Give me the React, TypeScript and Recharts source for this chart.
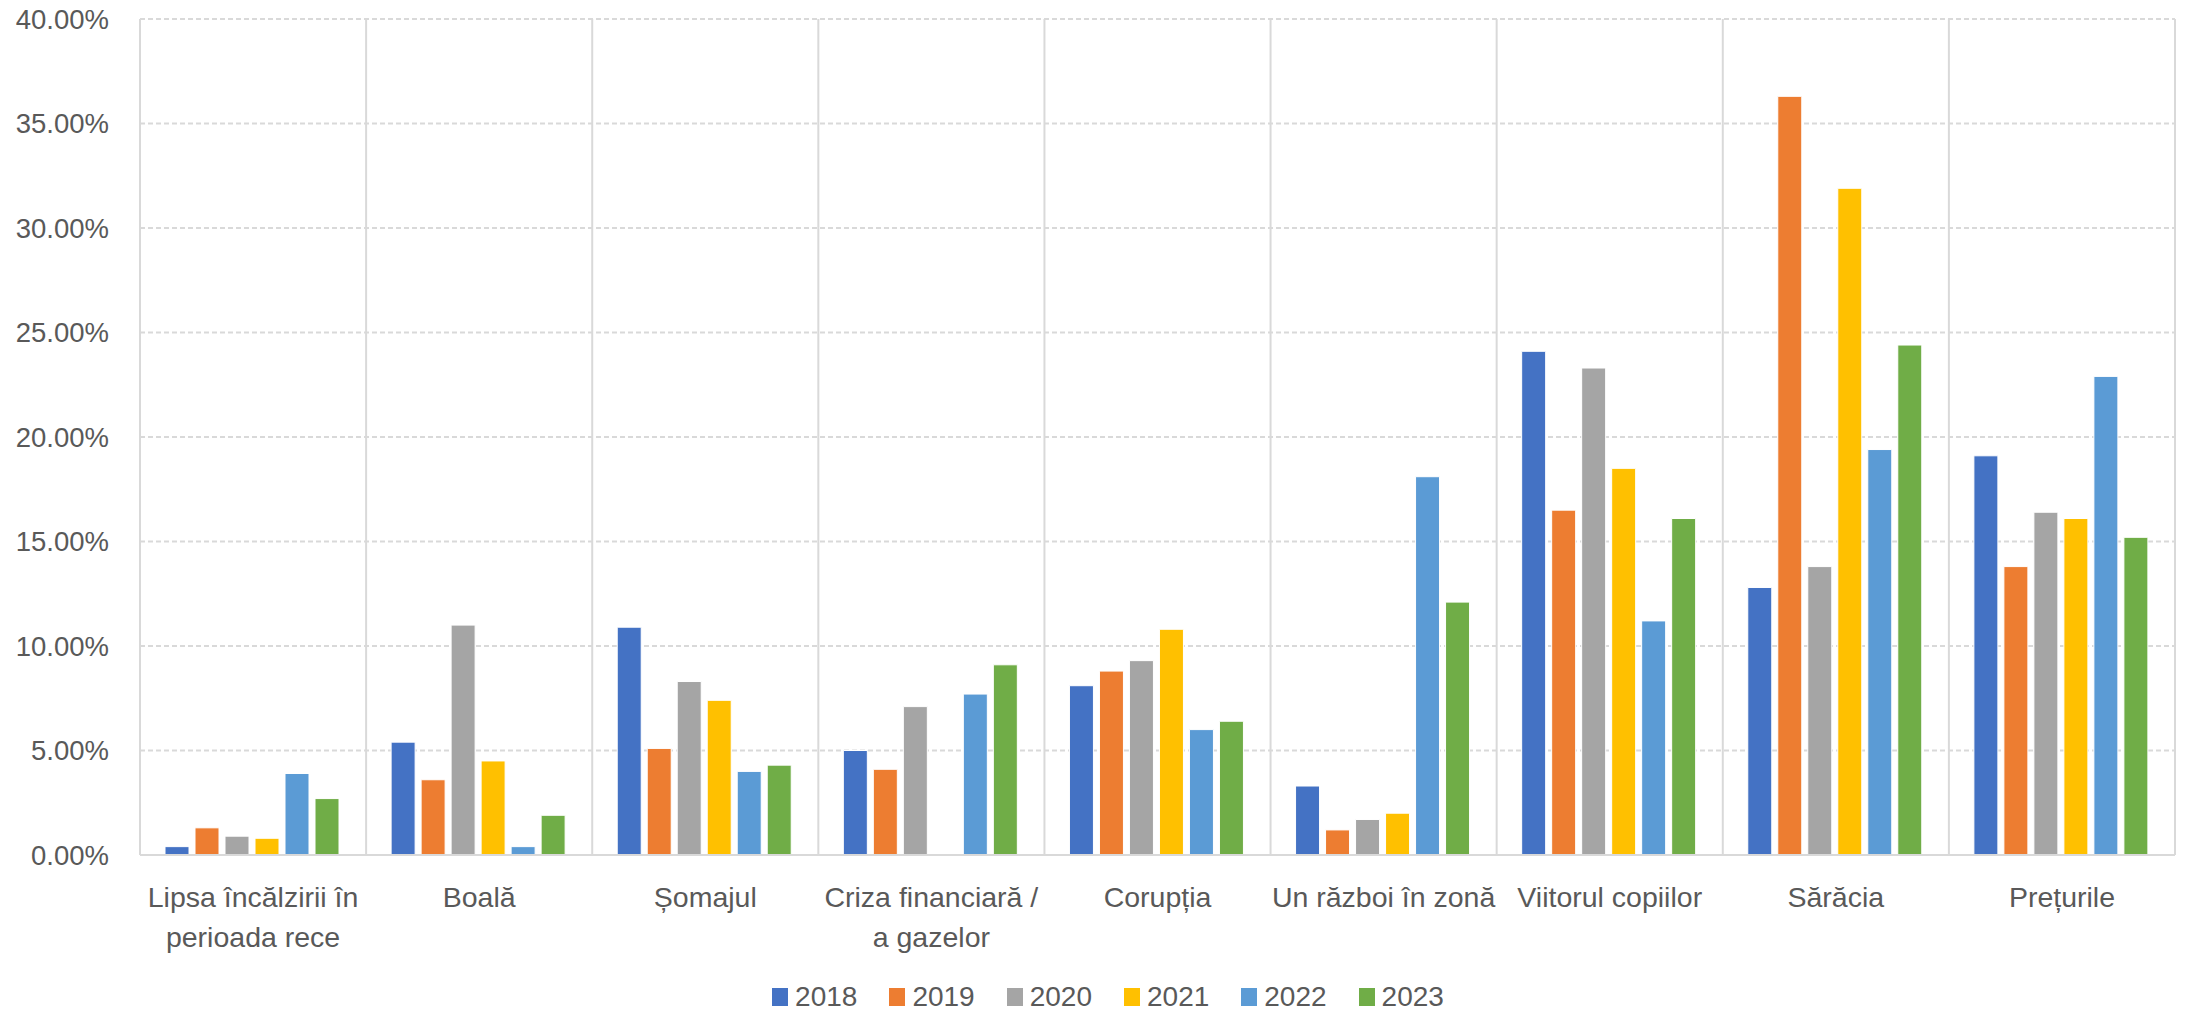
import { BarChart, Bar, XAxis, YAxis, CartesianGrid, Legend } from 'recharts'

const categories = [
    'Lipsa încălzirii în\nperioada rece',
    'Boală',
    'Șomajul',
    'Criza financiară /\na gazelor',
    'Corupția',
    'Un război în zonă',
    'Viitorul copiilor',
    'Sărăcia',
    'Prețurile'
]

const years = ['2018', '2019', '2020', '2021', '2022', '2023']
const colors = ['#4472C4', '#ED7D31', '#A5A5A5', '#FFC000', '#5B9BD5', '#70AD47']

// values in percent, one list per year, ordered like categories
const v2018 = [0.4, 5.4, 10.9, 5.0, 8.1, 3.3, 24.1, 12.8, 19.1]
const v2019 = [1.3, 3.6, 5.1, 4.1, 8.8, 1.2, 16.5, 36.3, 13.8]
const v2020 = [0.9, 11.0, 8.3, 7.1, 9.3, 1.7, 23.3, 13.8, 16.4]
const v2021 = [0.8, 4.5, 7.4, null, 10.8, 2.0, 18.5, 31.9, 16.1]
const v2022 = [3.9, 0.4, 4.0, 7.7, 6.0, 18.1, 11.2, 19.4, 22.9]
const v2023 = [2.7, 1.9, 4.3, 9.1, 6.4, 12.1, 16.1, 24.4, 15.2]

const yTicks = [0, 5, 10, 15, 20, 25, 30, 35, 40]

const series = [v2018, v2019, v2020, v2021, v2022, v2023]

const data = categories.map((name, i) => {
    const row: Record<string, string | number | null> = { name }
    years.forEach((y, k) => { row[y] = series[k][i] })
    return row
})

const FONT = '"Liberation Sans", Arial, sans-serif'
const TEXT = '#595959'

function CategoryTick(props: any) {
    const { x, y, payload } = props
    const lines = String(payload.value).split('\n')
    return (
        <text x={x} y={y + 52} textAnchor="middle" fill={TEXT} fontSize={28.5} fontFamily={FONT}>
            {lines.map((l, i) => (
                <tspan key={i} x={x} dy={i === 0 ? 0 : 40}>{l}</tspan>
            ))}
        </text>
    )
}

function LegendContent() {
    return (
        <div style={{ width: 2190, height: 28, display: 'flex', justifyContent: 'center', alignItems: 'center', paddingLeft: 6, boxSizing: 'border-box' }}>
            {years.map((y, k) => (
                <div key={y} style={{ display: 'flex', alignItems: 'center', marginRight: k < years.length - 1 ? 32 : 0 }}>
                    <span style={{ width: 16, height: 18, background: colors[k], display: 'inline-block', marginRight: 7 }} />
                    <span style={{ fontFamily: FONT, fontSize: 28, color: TEXT, lineHeight: '28px' }}>{y}</span>
                </div>
            ))}
        </div>
    )
}

export default function App() {
    return (
        <div style={{ position: 'absolute', left: 0, top: 0, width: 2190, height: 1011, background: '#fff' }}>
            <BarChart
                width={2190}
                height={1011}
                data={data}
                margin={{ top: 19, right: 15, left: 10, bottom: 0 }}
                barCategoryGap={25}
                barGap={6}
            >
                <CartesianGrid vertical={false} stroke="#d9d9d9" strokeWidth={2} strokeDasharray="5 3" />
                <CartesianGrid
                    horizontal={false}
                    stroke="#d9d9d9"
                    strokeWidth={2}
                    verticalCoordinatesGenerator={({ offset }: any) =>
                        [...categories, ''].map((_, i) => offset.left + (i * offset.width) / categories.length)
                    }
                />
                <XAxis
                    dataKey="name"
                    interval={0}
                    height={128}
                    tickLine={false}
                    tickSize={0}
                    tickMargin={0}
                    axisLine={{ stroke: '#d9d9d9', strokeWidth: 2 }}
                    tick={<CategoryTick />}
                />
                <YAxis
                    width={130}
                    domain={[0, 40]}
                    ticks={yTicks}
                    axisLine={false}
                    tickLine={false}
                    tickSize={0}
                    tickMargin={31}
                    tickFormatter={(v: number) => `${v.toFixed(2)}%`}
                    tick={{ fill: TEXT, fontSize: 27.5, fontFamily: FONT }}
                />
                <Legend verticalAlign="bottom" content={<LegendContent />} />
                {years.map((y, k) => (
                    <Bar key={y} dataKey={y} fill={colors[k]} stroke="#ffffff" strokeWidth={1} isAnimationActive={false} />
                ))}
            </BarChart>
        </div>
    )
}
